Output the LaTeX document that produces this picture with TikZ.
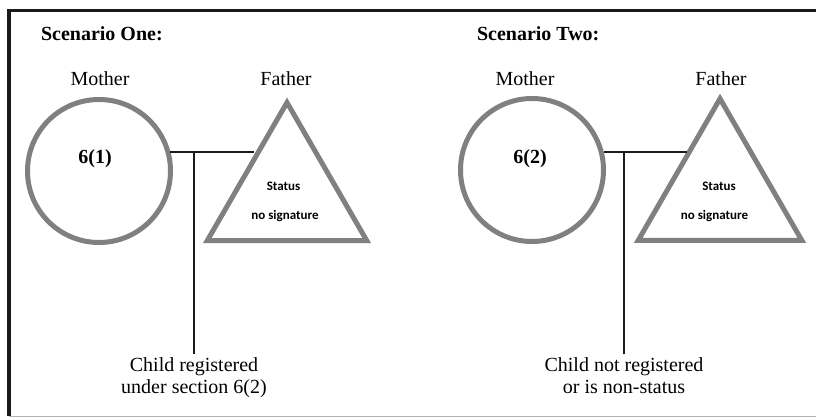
\documentclass[tikz,border=0pt]{standalone}
\usepackage{fontspec}
\setmainfont{Liberation Serif}
\newfontfamily\calibri{Carlito}
\usetikzlibrary{shapes.geometric}
\usetikzlibrary{positioning}
\definecolor{shapegray}{HTML}{808080}
\definecolor{linedark}{HTML}{1A1A1A}

\begin{document}
\begin{tikzpicture}[x=1pt,y=-1pt,line width=2pt,draw=linedark,
  title/.style={anchor=base west,inner sep=0pt,font=\fontsize{20}{24}\selectfont\bfseries},
  person/.style={anchor=base,font=\fontsize{20}{24}\selectfont},
  mother/.style={circle,draw=shapegray,line width=5pt,minimum size=143pt,inner sep=0pt},
  father/.style={regular polygon,regular polygon sides=3,draw=shapegray,line width=5pt,minimum size=184pt,inner sep=0pt},
  code/.style={anchor=base,font=\fontsize{20}{24}\selectfont\bfseries},
  status/.style={anchor=base,font=\fontsize{13}{16}\selectfont\calibri\bfseries},
  child/.style={anchor=north,align=center,inner sep=0pt,outer sep=4pt,font=\fontsize{20}{22}\selectfont}]
  \useasboundingbox (0,0) rectangle (816,417);
  % frame
  \draw[line width=3pt] (7.5,10.7) -- (816,10.7);
  \draw[line width=3.5pt] (9,9) -- (9,416);
  \draw[line width=1pt,draw=gray!60] (9,416) -- (816,416);

  % scenario one
  \node[title] (title1) at (40,41) {Scenario One:};
  \node[mother] (mom1) at (99,171) {};
  \node[person] (mlabel1) at (100,86) {Mother};
  \node[code] (code1) at (95,163) {6(1)};
  \node[father] (dad1) at (287,194.5) {};
  \node[person] (flabel1) at (286,86) {Father};
  \node[status] (stat1) at (283.5,190.7) {Status};
  \node[status] (sign1) at (285,219.3) {no signature};
  \node[child] (kid1) at (194,354) {Child registered\\under section 6(2)};
  \draw (mom1.15) -- (mom1.15 -| dad1.129);
  \draw (kid1.north) -- (kid1.north |- mom1.15);

  % scenario two
  \node[title] (title2) at (476,41) {Scenario Two:};
  \node[mother] (mom2) at (532,170) {};
  \node[person] (mlabel2) at (525,86) {Mother};
  \node[code] (code2) at (530,163) {6(2)};
  \node[father,minimum size=189pt] (dad2) at (720,193.2) {};
  \node[person] (flabel2) at (721,86) {Father};
  \node[status] (stat2) at (719,190.7) {Status};
  \node[status] (sign2) at (714.5,219.3) {no signature};
  \node[child] (kid2) at (624,354) {Child not registered\\or is non-status};
  \draw (mom2.14) -- (mom2.14 -| dad2.128);
  \draw (kid2.north) -- (kid2.north |- mom2.14);
\end{tikzpicture}
\end{document}
